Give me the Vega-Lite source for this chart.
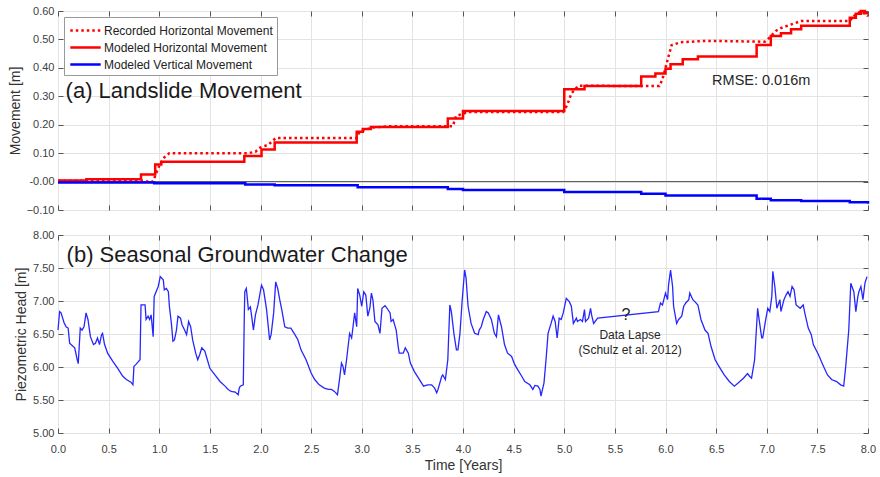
{
"$schema": "https://vega.github.io/schema/vega-lite/v6.json",
"padding": {"left": 7, "top": 4, "right": 2, "bottom": 2},
"background": "white",
"spacing": 12,
"datasets": {
"movement": [
{"t":0.0,"v":0.003,"series":"Recorded Horizontal Movement"},
{"t":0.85,"v":0.003,"series":"Recorded Horizontal Movement"},
{"t":0.88,"v":0.0,"series":"Recorded Horizontal Movement"},
{"t":0.94,"v":0.0,"series":"Recorded Horizontal Movement"},
{"t":0.97,"v":0.03,"series":"Recorded Horizontal Movement"},
{"t":1.0,"v":0.055,"series":"Recorded Horizontal Movement"},
{"t":1.05,"v":0.085,"series":"Recorded Horizontal Movement"},
{"t":1.1,"v":0.1,"series":"Recorded Horizontal Movement"},
{"t":1.88,"v":0.1,"series":"Recorded Horizontal Movement"},
{"t":1.95,"v":0.105,"series":"Recorded Horizontal Movement"},
{"t":2.0,"v":0.12,"series":"Recorded Horizontal Movement"},
{"t":2.08,"v":0.13,"series":"Recorded Horizontal Movement"},
{"t":2.15,"v":0.153,"series":"Recorded Horizontal Movement"},
{"t":2.95,"v":0.153,"series":"Recorded Horizontal Movement"},
{"t":2.97,"v":0.17,"series":"Recorded Horizontal Movement"},
{"t":3.02,"v":0.18,"series":"Recorded Horizontal Movement"},
{"t":3.1,"v":0.19,"series":"Recorded Horizontal Movement"},
{"t":3.3,"v":0.195,"series":"Recorded Horizontal Movement"},
{"t":3.9,"v":0.195,"series":"Recorded Horizontal Movement"},
{"t":3.93,"v":0.23,"series":"Recorded Horizontal Movement"},
{"t":4.05,"v":0.245,"series":"Recorded Horizontal Movement"},
{"t":4.99,"v":0.245,"series":"Recorded Horizontal Movement"},
{"t":5.03,"v":0.27,"series":"Recorded Horizontal Movement"},
{"t":5.07,"v":0.31,"series":"Recorded Horizontal Movement"},
{"t":5.14,"v":0.337,"series":"Recorded Horizontal Movement"},
{"t":5.94,"v":0.336,"series":"Recorded Horizontal Movement"},
{"t":5.97,"v":0.36,"series":"Recorded Horizontal Movement"},
{"t":6.0,"v":0.4,"series":"Recorded Horizontal Movement"},
{"t":6.03,"v":0.44,"series":"Recorded Horizontal Movement"},
{"t":6.06,"v":0.48,"series":"Recorded Horizontal Movement"},
{"t":6.15,"v":0.49,"series":"Recorded Horizontal Movement"},
{"t":6.4,"v":0.495,"series":"Recorded Horizontal Movement"},
{"t":6.98,"v":0.492,"series":"Recorded Horizontal Movement"},
{"t":7.01,"v":0.5,"series":"Recorded Horizontal Movement"},
{"t":7.09,"v":0.53,"series":"Recorded Horizontal Movement"},
{"t":7.14,"v":0.54,"series":"Recorded Horizontal Movement"},
{"t":7.34,"v":0.565,"series":"Recorded Horizontal Movement"},
{"t":7.82,"v":0.565,"series":"Recorded Horizontal Movement"},
{"t":7.86,"v":0.582,"series":"Recorded Horizontal Movement"},
{"t":7.93,"v":0.6,"series":"Recorded Horizontal Movement"},
{"t":8.0,"v":0.582,"series":"Recorded Horizontal Movement"},
{"t":0.0,"v":0.004,"series":"Modeled Horizontal Movement"},
{"t":0.28,"v":0.008,"series":"Modeled Horizontal Movement"},
{"t":0.82,"v":0.025,"series":"Modeled Horizontal Movement"},
{"t":0.96,"v":0.06,"series":"Modeled Horizontal Movement"},
{"t":1.02,"v":0.07,"series":"Modeled Horizontal Movement"},
{"t":1.84,"v":0.09,"series":"Modeled Horizontal Movement"},
{"t":2.01,"v":0.113,"series":"Modeled Horizontal Movement"},
{"t":2.14,"v":0.137,"series":"Modeled Horizontal Movement"},
{"t":2.95,"v":0.175,"series":"Modeled Horizontal Movement"},
{"t":3.01,"v":0.185,"series":"Modeled Horizontal Movement"},
{"t":3.09,"v":0.192,"series":"Modeled Horizontal Movement"},
{"t":3.85,"v":0.222,"series":"Modeled Horizontal Movement"},
{"t":4.0,"v":0.248,"series":"Modeled Horizontal Movement"},
{"t":5.0,"v":0.325,"series":"Modeled Horizontal Movement"},
{"t":5.2,"v":0.336,"series":"Modeled Horizontal Movement"},
{"t":5.76,"v":0.37,"series":"Modeled Horizontal Movement"},
{"t":5.9,"v":0.38,"series":"Modeled Horizontal Movement"},
{"t":6.0,"v":0.397,"series":"Modeled Horizontal Movement"},
{"t":6.05,"v":0.413,"series":"Modeled Horizontal Movement"},
{"t":6.17,"v":0.43,"series":"Modeled Horizontal Movement"},
{"t":6.32,"v":0.44,"series":"Modeled Horizontal Movement"},
{"t":6.9,"v":0.48,"series":"Modeled Horizontal Movement"},
{"t":7.04,"v":0.512,"series":"Modeled Horizontal Movement"},
{"t":7.14,"v":0.522,"series":"Modeled Horizontal Movement"},
{"t":7.24,"v":0.536,"series":"Modeled Horizontal Movement"},
{"t":7.34,"v":0.548,"series":"Modeled Horizontal Movement"},
{"t":7.82,"v":0.576,"series":"Modeled Horizontal Movement"},
{"t":7.88,"v":0.59,"series":"Modeled Horizontal Movement"},
{"t":7.93,"v":0.6,"series":"Modeled Horizontal Movement"},
{"t":7.97,"v":0.592,"series":"Modeled Horizontal Movement"},
{"t":8.0,"v":0.592,"series":"Modeled Horizontal Movement"},
{"t":0.0,"v":-0.003,"series":"Modeled Vertical Movement"},
{"t":0.95,"v":-0.006,"series":"Modeled Vertical Movement"},
{"t":1.85,"v":-0.01,"series":"Modeled Vertical Movement"},
{"t":2.14,"v":-0.013,"series":"Modeled Vertical Movement"},
{"t":2.96,"v":-0.02,"series":"Modeled Vertical Movement"},
{"t":3.85,"v":-0.026,"series":"Modeled Vertical Movement"},
{"t":4.0,"v":-0.03,"series":"Modeled Vertical Movement"},
{"t":5.0,"v":-0.037,"series":"Modeled Vertical Movement"},
{"t":5.76,"v":-0.043,"series":"Modeled Vertical Movement"},
{"t":6.0,"v":-0.049,"series":"Modeled Vertical Movement"},
{"t":6.9,"v":-0.06,"series":"Modeled Vertical Movement"},
{"t":7.04,"v":-0.066,"series":"Modeled Vertical Movement"},
{"t":7.34,"v":-0.068,"series":"Modeled Vertical Movement"},
{"t":7.82,"v":-0.073,"series":"Modeled Vertical Movement"},
{"t":8.0,"v":-0.078,"series":"Modeled Vertical Movement"}
],
"groundwater": [
{"t":0.0,"h":6.56},{"t":0.016,"h":6.84},{"t":0.03,"h":6.82},{"t":0.06,"h":6.67},{"t":0.08,"h":6.61},{"t":0.1,"h":6.59},{"t":0.115,"h":6.36},{"t":0.15,"h":6.31},{"t":0.165,"h":6.29},{"t":0.19,"h":6.11},{"t":0.2,"h":6.05},{"t":0.22,"h":6.59},{"t":0.237,"h":6.56},{"t":0.257,"h":6.61},{"t":0.277,"h":6.82},{"t":0.296,"h":6.72},{"t":0.32,"h":6.46},{"t":0.35,"h":6.34},{"t":0.37,"h":6.36},{"t":0.39,"h":6.44},{"t":0.4,"h":6.39},{"t":0.41,"h":6.34},{"t":0.43,"h":6.49},{"t":0.44,"h":6.51},{"t":0.46,"h":6.34},{"t":0.49,"h":6.21},{"t":0.54,"h":6.09},{"t":0.59,"h":5.98},{"t":0.64,"h":5.86},{"t":0.675,"h":5.81},{"t":0.72,"h":5.77},{"t":0.74,"h":5.73},{"t":0.75,"h":6.01},{"t":0.77,"h":6.04},{"t":0.81,"h":6.11},{"t":0.82,"h":6.94},{"t":0.86,"h":6.94},{"t":0.87,"h":6.72},{"t":0.89,"h":6.77},{"t":0.905,"h":6.72},{"t":0.92,"h":6.79},{"t":0.94,"h":6.46},{"t":0.95,"h":7.07},{"t":0.99,"h":7.22},{"t":1.01,"h":7.37},{"t":1.04,"h":7.32},{"t":1.05,"h":7.17},{"t":1.07,"h":7.19},{"t":1.09,"h":7.14},{"t":1.1,"h":6.92},{"t":1.12,"h":6.66},{"t":1.135,"h":6.39},{"t":1.15,"h":6.41},{"t":1.17,"h":6.56},{"t":1.185,"h":6.77},{"t":1.21,"h":6.74},{"t":1.225,"h":6.64},{"t":1.25,"h":6.56},{"t":1.27,"h":6.49},{"t":1.29,"h":6.69},{"t":1.31,"h":6.61},{"t":1.33,"h":6.41},{"t":1.36,"h":6.21},{"t":1.38,"h":6.11},{"t":1.4,"h":6.19},{"t":1.42,"h":6.29},{"t":1.45,"h":6.24},{"t":1.475,"h":6.11},{"t":1.5,"h":5.98},{"t":1.55,"h":5.88},{"t":1.6,"h":5.78},{"t":1.65,"h":5.71},{"t":1.68,"h":5.66},{"t":1.71,"h":5.63},{"t":1.75,"h":5.62},{"t":1.78,"h":5.58},{"t":1.79,"h":5.68},{"t":1.8,"h":5.71},{"t":1.83,"h":5.73},{"t":1.84,"h":6.77},{"t":1.845,"h":7.14},{"t":1.86,"h":7.19},{"t":1.87,"h":7.04},{"t":1.88,"h":6.87},{"t":1.9,"h":6.91},{"t":1.915,"h":6.74},{"t":1.93,"h":6.56},{"t":1.95,"h":6.79},{"t":1.975,"h":6.94},{"t":2.01,"h":7.24},{"t":2.03,"h":7.17},{"t":2.06,"h":6.87},{"t":2.09,"h":6.41},{"t":2.105,"h":6.49},{"t":2.13,"h":6.82},{"t":2.15,"h":7.29},{"t":2.17,"h":7.19},{"t":2.19,"h":7.02},{"t":2.21,"h":6.87},{"t":2.24,"h":6.61},{"t":2.27,"h":6.59},{"t":2.3,"h":6.59},{"t":2.34,"h":6.49},{"t":2.37,"h":6.41},{"t":2.4,"h":6.26},{"t":2.45,"h":6.11},{"t":2.5,"h":5.91},{"t":2.535,"h":5.81},{"t":2.58,"h":5.73},{"t":2.63,"h":5.68},{"t":2.67,"h":5.66},{"t":2.7,"h":5.66},{"t":2.73,"h":5.63},{"t":2.76,"h":5.58},{"t":2.78,"h":5.81},{"t":2.8,"h":6.06},{"t":2.815,"h":6.01},{"t":2.83,"h":5.88},{"t":2.85,"h":6.11},{"t":2.88,"h":6.51},{"t":2.9,"h":6.44},{"t":2.91,"h":6.56},{"t":2.93,"h":6.82},{"t":2.95,"h":6.61},{"t":2.96,"h":7.19},{"t":2.98,"h":7.09},{"t":3.0,"h":6.92},{"t":3.02,"h":7.14},{"t":3.04,"h":7.09},{"t":3.06,"h":6.77},{"t":3.08,"h":6.89},{"t":3.095,"h":7.12},{"t":3.11,"h":7.02},{"t":3.13,"h":6.69},{"t":3.16,"h":6.64},{"t":3.18,"h":6.51},{"t":3.2,"h":6.89},{"t":3.23,"h":6.93},{"t":3.25,"h":6.89},{"t":3.28,"h":6.82},{"t":3.29,"h":6.69},{"t":3.31,"h":6.72},{"t":3.34,"h":6.56},{"t":3.36,"h":6.31},{"t":3.37,"h":6.21},{"t":3.41,"h":6.21},{"t":3.43,"h":6.29},{"t":3.46,"h":6.21},{"t":3.48,"h":6.06},{"t":3.52,"h":5.93},{"t":3.57,"h":5.81},{"t":3.61,"h":5.71},{"t":3.65,"h":5.73},{"t":3.69,"h":5.73},{"t":3.72,"h":5.68},{"t":3.74,"h":5.61},{"t":3.753,"h":5.66},{"t":3.79,"h":5.86},{"t":3.8,"h":5.88},{"t":3.826,"h":5.81},{"t":3.85,"h":6.11},{"t":3.87,"h":6.94},{"t":3.885,"h":6.84},{"t":3.91,"h":6.51},{"t":3.935,"h":6.26},{"t":3.95,"h":6.26},{"t":3.97,"h":6.51},{"t":3.99,"h":6.97},{"t":4.016,"h":7.47},{"t":4.03,"h":7.35},{"t":4.05,"h":6.92},{"t":4.08,"h":6.66},{"t":4.115,"h":6.51},{"t":4.15,"h":6.49},{"t":4.16,"h":6.56},{"t":4.18,"h":6.61},{"t":4.2,"h":6.72},{"t":4.23,"h":6.84},{"t":4.25,"h":6.82},{"t":4.28,"h":6.72},{"t":4.31,"h":6.51},{"t":4.33,"h":6.46},{"t":4.35,"h":6.79},{"t":4.38,"h":6.61},{"t":4.41,"h":6.34},{"t":4.44,"h":6.21},{"t":4.48,"h":6.16},{"t":4.51,"h":6.04},{"t":4.54,"h":5.96},{"t":4.58,"h":5.86},{"t":4.61,"h":5.78},{"t":4.66,"h":5.73},{"t":4.69,"h":5.66},{"t":4.71,"h":5.72},{"t":4.74,"h":5.71},{"t":4.76,"h":5.66},{"t":4.77,"h":5.56},{"t":4.8,"h":5.76},{"t":4.82,"h":6.11},{"t":4.84,"h":6.51},{"t":4.87,"h":6.66},{"t":4.89,"h":6.77},{"t":4.91,"h":6.69},{"t":4.93,"h":6.44},{"t":4.95,"h":6.74},{"t":4.97,"h":6.72},{"t":4.99,"h":6.82},{"t":5.02,"h":7.04},{"t":5.05,"h":6.99},{"t":5.07,"h":6.92},{"t":5.09,"h":6.66},{"t":5.12,"h":6.74},{"t":5.13,"h":6.69},{"t":5.16,"h":6.72},{"t":5.18,"h":6.69},{"t":5.2,"h":6.87},{"t":5.21,"h":6.69},{"t":5.24,"h":6.74},{"t":5.26,"h":6.89},{"t":5.27,"h":6.79},{"t":5.29,"h":6.66},{"t":5.33,"h":6.74},{"t":5.93,"h":6.84},{"t":5.95,"h":6.97},{"t":5.97,"h":6.94},{"t":6.0,"h":7.12},{"t":6.02,"h":7.02},{"t":6.03,"h":7.24},{"t":6.05,"h":7.47},{"t":6.07,"h":7.22},{"t":6.08,"h":6.92},{"t":6.11,"h":6.66},{"t":6.13,"h":6.72},{"t":6.16,"h":6.77},{"t":6.18,"h":6.92},{"t":6.2,"h":6.97},{"t":6.23,"h":7.02},{"t":6.24,"h":7.12},{"t":6.27,"h":7.02},{"t":6.29,"h":6.99},{"t":6.32,"h":6.94},{"t":6.35,"h":6.72},{"t":6.39,"h":6.56},{"t":6.42,"h":6.51},{"t":6.45,"h":6.31},{"t":6.49,"h":6.11},{"t":6.54,"h":5.98},{"t":6.58,"h":5.88},{"t":6.63,"h":5.78},{"t":6.68,"h":5.71},{"t":6.72,"h":5.76},{"t":6.77,"h":5.83},{"t":6.81,"h":5.9},{"t":6.83,"h":5.86},{"t":6.85,"h":5.83},{"t":6.88,"h":6.11},{"t":6.91,"h":6.89},{"t":6.92,"h":6.77},{"t":6.95,"h":6.44},{"t":6.96,"h":6.44},{"t":6.99,"h":6.72},{"t":7.01,"h":6.89},{"t":7.03,"h":6.84},{"t":7.05,"h":7.07},{"t":7.06,"h":7.45},{"t":7.08,"h":7.22},{"t":7.1,"h":6.89},{"t":7.13,"h":7.02},{"t":7.14,"h":6.84},{"t":7.17,"h":7.02},{"t":7.19,"h":7.09},{"t":7.21,"h":7.14},{"t":7.23,"h":7.07},{"t":7.25,"h":7.22},{"t":7.27,"h":7.17},{"t":7.29,"h":6.94},{"t":7.33,"h":6.89},{"t":7.36,"h":6.94},{"t":7.38,"h":6.79},{"t":7.41,"h":6.59},{"t":7.44,"h":6.49},{"t":7.46,"h":6.34},{"t":7.51,"h":6.19},{"t":7.56,"h":6.01},{"t":7.6,"h":5.88},{"t":7.64,"h":5.81},{"t":7.69,"h":5.78},{"t":7.73,"h":5.73},{"t":7.76,"h":5.71},{"t":7.78,"h":6.01},{"t":7.81,"h":6.56},{"t":7.83,"h":7.27},{"t":7.86,"h":7.14},{"t":7.88,"h":6.84},{"t":7.9,"h":7.07},{"t":7.91,"h":7.14},{"t":7.93,"h":7.22},{"t":7.95,"h":7.02},{"t":7.97,"h":7.27},{"t":7.99,"h":7.37}
]
},
"vconcat": [
{
"width": 810, "height": 199,
"layer": [
{"data": {"values": [{}]}, "mark": {"type": "rule", "color": "#555555", "strokeWidth": 1},
 "encoding": {"y": {"datum": 0, "type": "quantitative", "axis": null}}},
{"data": {"name": "movement"},
 "transform": [{"filter": "datum.series === 'Recorded Horizontal Movement'"}],
 "mark": {"type": "line", "strokeWidth": 2.5, "strokeCap": "butt", "interpolate": "linear"},
 "encoding": {
  "x": {"field": "t", "type": "quantitative", "scale": {"domain": [0, 8], "nice": false},
        "axis": {"values": [0,0.5,1,1.5,2,2.5,3,3.5,4,4.5,5,5.5,6,6.5,7,7.5,8], "labels": false, "title": null, "grid": true}},
  "y": {"field": "v", "type": "quantitative", "scale": {"domain": [-0.1, 0.6], "nice": false},
        "axis": {"values": [-0.1,0,0.1,0.2,0.3,0.4,0.5,0.6], "labelExpr": "abs(datum.value) < 1e-9 ? '-0.00' : format(datum.value, '.2f')", "title": "Movement [m]", "grid": true}},
  "color": {"field": "series", "type": "nominal",
   "scale": {"domain": ["Recorded Horizontal Movement", "Modeled Horizontal Movement", "Modeled Vertical Movement"], "range": ["#ff0000", "#ff0000", "#0000ff"]},
   "legend": {"title": null}},
  "strokeDash": {"field": "series", "type": "nominal",
   "scale": {"domain": ["Recorded Horizontal Movement", "Modeled Horizontal Movement", "Modeled Vertical Movement"], "range": [[2.5, 3], [1, 0], [1, 0]]},
   "legend": {"title": null}}
 }},
{"data": {"name": "movement"},
 "transform": [{"filter": "datum.series !== 'Recorded Horizontal Movement'"}],
 "mark": {"type": "line", "strokeWidth": 2.5, "strokeCap": "butt", "interpolate": "step-after"},
 "encoding": {
  "x": {"field": "t", "type": "quantitative",
        "axis": {"orient": "top", "values": [0,0.5,1,1.5,2,2.5,3,3.5,4,4.5,5,5.5,6,6.5,7,7.5,8], "labels": false, "title": null, "grid": false}},
  "y": {"field": "v", "type": "quantitative",
        "axis": {"orient": "right", "values": [-0.1,0,0.1,0.2,0.3,0.4,0.5,0.6], "labels": false, "title": null, "grid": false}},
  "color": {"field": "series", "type": "nominal", "legend": {"title": null}},
  "strokeDash": {"field": "series", "type": "nominal", "legend": {"title": null}}
 }},
{"data": {"values": [{}]}, "mark": {"type": "text", "text": "(a) Landslide Movement", "fontSize": 22, "align": "left", "baseline": "middle", "color": "#1a1a1a"},
 "encoding": {"x": {"datum": 0.075, "type": "quantitative", "axis": null}, "y": {"datum": 0.32, "type": "quantitative", "axis": null}}},
{"data": {"values": [{}]}, "mark": {"type": "text", "text": "RMSE: 0.016m", "fontSize": 14.5, "align": "left", "baseline": "middle", "color": "#262626"},
 "encoding": {"x": {"datum": 6.46, "type": "quantitative", "axis": null}, "y": {"datum": 0.354, "type": "quantitative", "axis": null}}}
],
"resolve": {"axis": {"x": "independent", "y": "independent"}}
},
{
"width": 810, "height": 198,
"layer": [
{"data": {"name": "groundwater"},
 "mark": {"type": "line", "strokeWidth": 1.3, "color": "#2626ff"},
 "encoding": {
  "x": {"field": "t", "type": "quantitative", "scale": {"domain": [0, 8], "nice": false},
        "axis": {"values": [0,0.5,1,1.5,2,2.5,3,3.5,4,4.5,5,5.5,6,6.5,7,7.5,8], "format": ".1f", "title": "Time [Years]", "grid": true, "labelPadding": 15, "titlePadding": 4}},
  "y": {"field": "h", "type": "quantitative", "scale": {"domain": [5, 8], "nice": false},
        "axis": {"values": [5,5.5,6,6.5,7,7.5,8], "format": ".2f", "title": "Piezometric Head [m]", "grid": true}}
 }},
{"data": {"values": [{}]}, "mark": {"type": "text", "text": "?", "fontSize": 16, "align": "center", "baseline": "middle", "color": "#1a1a1a"},
 "encoding": {
  "x": {"datum": 5.61, "type": "quantitative", "axis": {"orient": "top", "values": [0,0.5,1,1.5,2,2.5,3,3.5,4,4.5,5,5.5,6,6.5,7,7.5,8], "labels": false, "title": null, "grid": false}},
  "y": {"datum": 6.79, "type": "quantitative", "axis": {"orient": "right", "values": [5,5.5,6,6.5,7,7.5,8], "labels": false, "title": null, "grid": false}}}},
{"data": {"values": [{}]}, "mark": {"type": "text", "text": "Data Lapse", "fontSize": 12, "align": "center", "baseline": "middle", "color": "#262626"},
 "encoding": {"x": {"datum": 5.65, "type": "quantitative", "axis": null}, "y": {"datum": 6.48, "type": "quantitative", "axis": null}}},
{"data": {"values": [{}]}, "mark": {"type": "text", "text": "(Schulz et al. 2012)", "fontSize": 12, "align": "center", "baseline": "middle", "color": "#262626"},
 "encoding": {"x": {"datum": 5.65, "type": "quantitative", "axis": null}, "y": {"datum": 6.26, "type": "quantitative", "axis": null}}},
{"data": {"values": [{}]}, "mark": {"type": "text", "text": "(b) Seasonal Groundwater Change", "fontSize": 22, "align": "left", "baseline": "middle", "color": "#1a1a1a"},
 "encoding": {"x": {"datum": 0.085, "type": "quantitative", "axis": null}, "y": {"datum": 7.7, "type": "quantitative", "axis": null}}}
],
"resolve": {"axis": {"x": "independent", "y": "independent"}}
}
],
"config": {
 "font": "Liberation Sans",
 "view": {"stroke": "#8f8f8f", "strokeWidth": 1},
 "axis": {"labelFont": "Liberation Sans", "labelFontSize": 11, "labelColor": "#404040", "titleFont": "Liberation Sans", "titleFontSize": 14, "titleFontWeight": "normal", "titleColor": "#333333", "gridColor": "#e3e3e3", "gridWidth": 1, "tickColor": "#555555", "tickSize": -5, "domain": false, "labelPadding": 9, "labelFlush": false, "titlePadding": 4},
 "legend": {"orient": "top-left", "offset": 6, "labelFont": "Liberation Sans", "labelFontSize": 12, "labelLimit": 400, "labelColor": "#222222", "strokeColor": "#999999", "fillColor": "white", "padding": 4, "symbolType": "M-1.9,0H1.9", "symbolSize": 256, "symbolStrokeWidth": 2.5, "symbolOffset": 8, "rowPadding": 1, "labelOffset": 9}
}
}
